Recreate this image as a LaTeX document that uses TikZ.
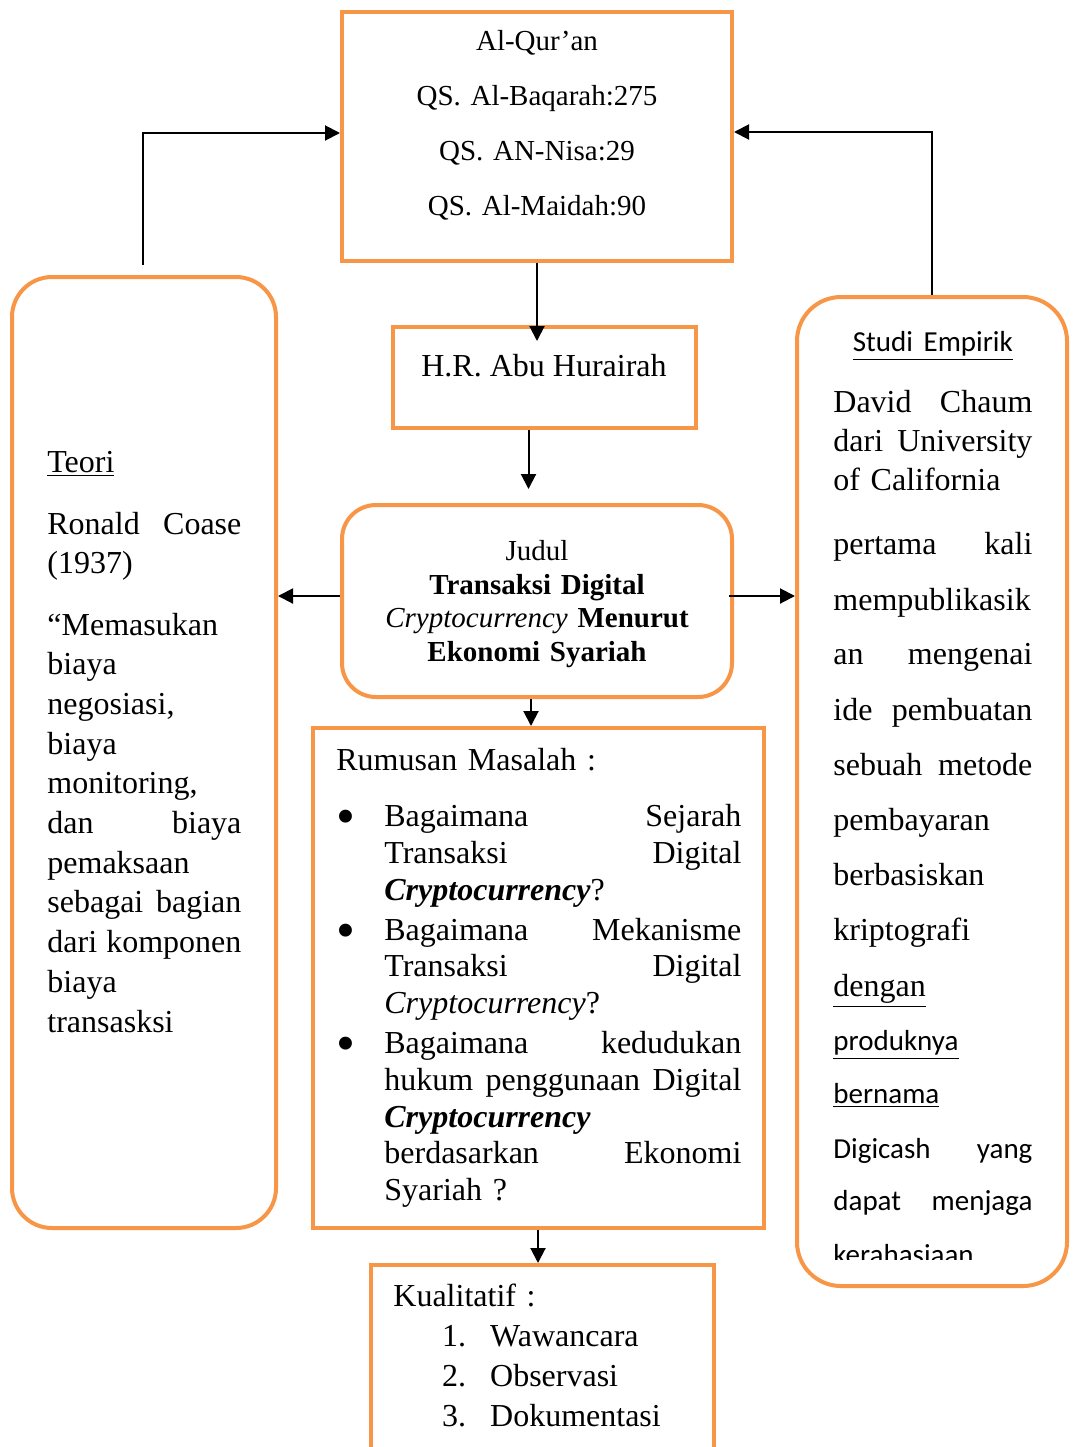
\documentclass[tikz,border=0pt]{standalone}
\usepackage{xcolor}
\usepackage{fontspec}
\setmainfont{Liberation Serif}
\newfontfamily\calibri{Carlito}
\usepackage{tikz}
\usetikzlibrary{calc}
\usetikzlibrary{arrows.meta}
\usetikzlibrary{shapes}
\frenchspacing

\definecolor{boxorange}{HTML}{F79646}
\newcommand{\butir}{\makebox[24pt][l]{\raisebox{-4pt}{\fontsize{27}{0}\selectfont •}}}
\newcommand{\indentbutir}{\hspace*{24pt}}
\newcommand{\kalibri}[1]{{\calibri\fontsize{14.5}{19.5}\selectfont #1}}

\tikzset{
  kotak/.style={rectangle, draw=boxorange, line width=2pt, inner sep=0pt},
  kotakbulat/.style={kotak, rounded corners=20pt},
  teks/.style={inner sep=0pt, font=\fontsize{16}{19.85}\selectfont},
  teksjudul/.style={inner sep=0pt, font=\fontsize{14.5}{16.8}\selectfont, text width=180pt, align=center},
  panah/.style={-{Triangle[length=7.5pt,width=7.5pt]}, draw=black, line width=1pt},
}

\begin{document}
\begin{tikzpicture}[x=0.5pt, y=-0.5pt]
\useasboundingbox (0,0) rectangle (1075,1447);

% kotak-kotak
\node [kotak, minimum width=195pt, minimum height=124.5pt] (quran) at (537,136) {};
\node [kotak, minimum width=151.5pt, minimum height=50.5pt] (hr) at (544.5,377.5) {};
\node [kotakbulat, rounded corners=17pt, minimum width=195pt, minimum height=96pt] (judul) at (537,601) {};
\node [kotak, minimum width=225.5pt, minimum height=250pt] (rumusan) at (538,978) {};
\node [kotak, minimum width=171.5pt, minimum height=110pt] (kual) at (542,1375) {};
\node [kotakbulat, minimum width=132pt, minimum height=475.5pt] (teori) at (144,752.5) {};
\node [kotakbulat, rounded corners=22pt, minimum width=135pt, minimum height=494.5pt] (studi) at (932,791.5) {};

% isi
\node [teksjudul, font=\fontsize{14.5}{27.5}\selectfont, anchor=base] (qurantext) at (537,50.7)
  {Al-Qur'an\\QS. Al-Baqarah:275\\QS. AN-Nisa:29\\QS. Al-Maidah:90};
\node [teks, anchor=base] (hrtext) at (544,376.7) {H.R. Abu Hurairah};
\node [teksjudul, anchor=base] (judultext) at (537,560.7)
  {Judul\\\textbf{Transaksi Digital}\\\textit{Cryptocurrency} \textbf{Menurut}\\\textbf{Ekonomi Syariah}};
\node [teks, font=\fontsize{16}{18.4}\selectfont, text width=202.5pt, align=left, anchor=base west] (rumusantext) at (336,770.7)
  {Rumusan Masalah :\\[9.6pt]
   \butir Bagaimana\hfill Sejarah\\
   \indentbutir Transaksi\hfill Digital\\
   \indentbutir\textbf{\textit{Cryptocurrency}}?\\[1.5pt]
   \butir Bagaimana\hfill Mekanisme\\
   \indentbutir Transaksi\hfill Digital\\
   \indentbutir\textit{Cryptocurrency}?\\[1.5pt]
   \butir Bagaimana\hfill kedudukan\\
   \indentbutir hukum\hfill penggunaan\hfill Digital\\
   \indentbutir\textbf{\textit{Cryptocurrency}}\\
   \indentbutir berdasarkan\hfill Ekonomi\\
   \indentbutir Syariah ?};
\node [teks, font=\fontsize{16}{20}\selectfont, text width=160pt, align=left, anchor=base west] (kualtext) at (393,1306)
  {Kualitatif :\\
   \hspace*{24.4pt}\makebox[24pt][l]{1.}Wawancara\\
   \hspace*{24.4pt}\makebox[24pt][l]{2.}Observasi\\
   \hspace*{24.4pt}\makebox[24pt][l]{3.}Dokumentasi};
\node [teks, text width=97pt, align=left, anchor=base west] (teoritext) at (47,472.7)
  {\underline{Teori}\\[10.8pt]
   Ronald\hfill Coase\\
   (1937)\\[10.8pt]
   “Memasukan\\
   biaya\\
   negosiasi,\\
   biaya\\
   monitoring,\\
   dan\hfill biaya\\
   pemaksaan\\
   sebagai\hfill bagian\\
   dari\hfill komponen\\
   biaya\\
   transasksi};
\begin{scope}
\clip (800,300) rectangle (1064,1259);
\node [teks, font=\fontsize{16}{19.5}\selectfont, text width=99.5pt, align=left, anchor=base west] (studitext) at (833,351.7)
  {\hfill\kalibri{\underline{Studi Empirik}}\hfill\null\\[11pt]
   David\hfill Chaum\\
   dari\hfill University\\
   of California\\[12.5pt]
   pertama\hfill kali\\[8.5pt]
   mempublikasik\\[7.5pt]
   an\hfill mengenai\\[8.5pt]
   ide\hfill pembuatan\\[8pt]
   sebuah\hfill metode\\[8pt]
   pembayaran\\[8pt]
   berbasiskan\\[8pt]
   kriptografi\\[8.5pt]
   \underline{dengan}\\[7.5pt]
   \kalibri{\underline{produknya}}\\[7pt]
   \kalibri{\underline{bernama}}\\[8pt]
   \kalibri{Digicash}\hfill\kalibri{yang}\\[6.5pt]
   \kalibri{dapat}\hfill\kalibri{menjaga}\\[7.5pt]
   \kalibri{kerahasiaan}};
\end{scope}

% panah
\draw [panah] (quran.south) -- ($(quran.south |- hr.north)+(0,16)$);
\draw [panah] ($(hr.south)+(-16,0)$) -- ($(hr.south |- judul.north)+(-16,-14)$);
\draw [panah] ($(judul.west)+(0,-5)$) -- ($(judul.west -| teori.east)+(0,-5)$);
\draw [panah] ($(judul.east)+(-5,-5)$) -- ($(judul.east -| studi.west)+(0,-5)$);
\draw [panah] ($(judul.south)+(-6,0)$) -- ($(judul.south |- rumusan.north)+(-6,0)$);
\draw [panah] (rumusan.south) -- (rumusan.south |- kual.north);
\draw [panah] ($(teori.north)+(-1,-10)$) |- ($(quran.west)+(0,-3)$);
\draw [panah] (studi.north) |- ($(quran.east)+(0,-4)$);
\end{tikzpicture}
\end{document}
